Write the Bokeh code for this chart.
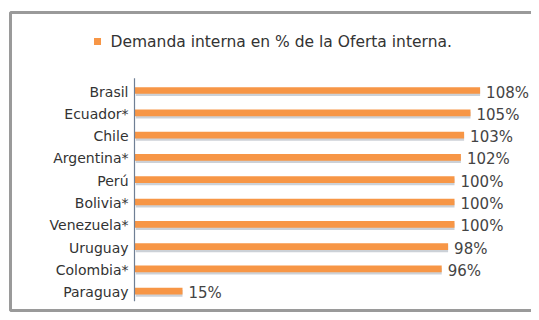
from bokeh.plotting import figure
from bokeh.models import Range1d, ColumnDataSource
from bokeh.core.properties import value
from bokeh.embed import file_html
from bokeh.resources import INLINE

categories = ["Brasil", "Ecuador*", "Chile", "Argentina*", "Perú", "Bolivia*",
              "Venezuela*", "Uruguay", "Colombia*", "Paraguay"]
values = [108, 105, 103, 102, 100, 100, 100, 98, 96, 15]
value_labels = ["108%", "105%", "103%", "102%", "100%", "100%", "100%", "98%", "96%", "15%"]
legend_label = "Demanda interna en % de la Oferta interna."

idx = list(range(len(categories)))
src = ColumnDataSource(data=dict(y=idx, v=values, cat=categories, lab=value_labels,
                                 ys=[i + 0.1 for i in idx]))

W, H = 531, 312
X0, X1 = -41.875, 124.06
Y_TOP, Y_BOT = -4.036, 9.955
p = figure(width=W, height=H, output_backend="svg", toolbar_location=None,
           x_range=Range1d(X0, X1), y_range=Range1d(Y_BOT, Y_TOP),
           min_border=0, outline_line_color=None)
p.axis.visible = False
p.grid.visible = False
p.background_fill_color = "white"
p.border_fill_color = "white"

# chart border (top, left, bottom) as one open path
bx = X0 + 10 / 3.2
by_top = Y_TOP + 12 / 22.3
by_bot = Y_TOP + 310 / 22.3
p.line(x=[X1 + 5, bx, bx, X1 + 5], y=[by_top, by_top, by_bot, by_bot],
       line_color="#9a9a9a", line_width=3)

# shadow + bars
p.hbar(y="ys", right="v", left=0.4, height=0.3, source=src, fill_color="#8e98a6",
       fill_alpha=0.45, line_color=None)
p.hbar(y="y", right="v", left=0, height=0.3, source=src, fill_color="#F79646",
       line_color=None)

# axis line
p.segment(x0=[0], y0=[-0.55], x1=[0], y1=[9.45], line_color="#6f7f95", line_width=1.2)

# category labels
p.text(x=0, y="y", text="cat", source=src, x_offset=-6, y_offset=1, text_align="right",
       text_baseline="middle", text_font=value("DejaVu Sans"), text_font_size="14px",
       text_color="#333333")
# value labels
p.text(x="v", y="y", text="lab", source=src, x_offset=6, y_offset=2, text_align="left",
       text_baseline="middle", text_font=value("DejaVu Sans"), text_font_size="15px",
       text_color="#444444")

# legend
p.rect(x=[-11.56], y=[-2.2], width=7, height=7, width_units="screen", height_units="screen",
       fill_color="#F79646", line_color=None)
p.text(x=[-7.5], y=[-2.153], text=[legend_label], text_align="left", text_baseline="middle",
       text_font=value("DejaVu Sans"), text_font_size="15.5px", text_color="#333333")

open("out.html", "w").write(file_html(p, INLINE))
